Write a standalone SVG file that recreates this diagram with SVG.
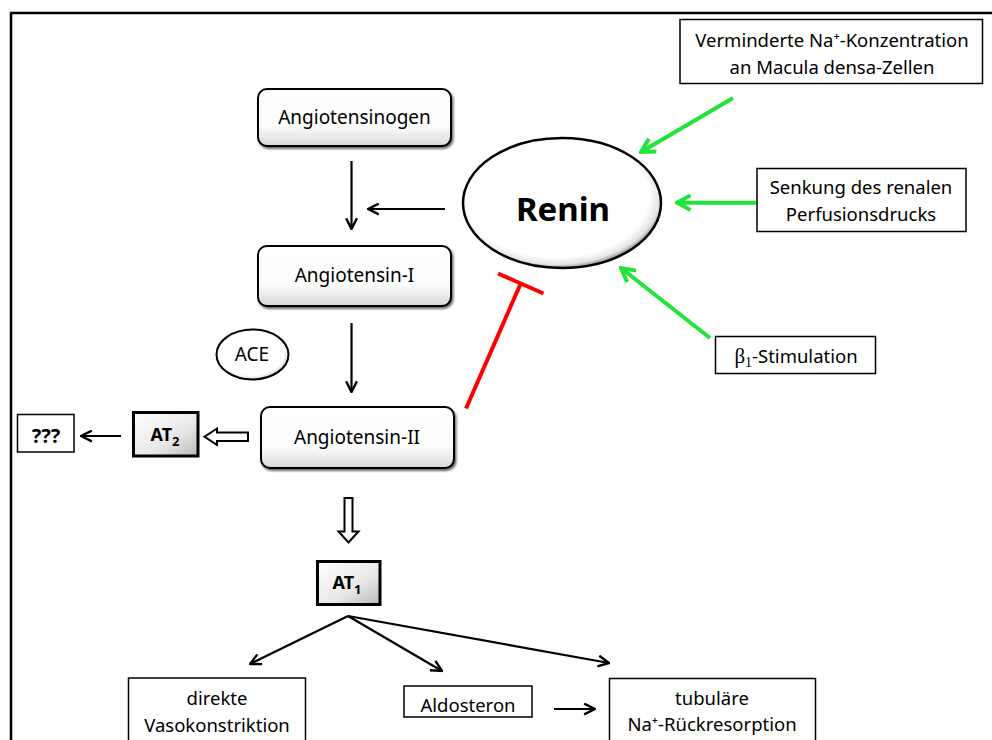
<svg xmlns="http://www.w3.org/2000/svg" width="992" height="740" viewBox="0 0 992 740">
<defs>
<style>
text{font-family:"Noto Sans","Open Sans","DejaVu Sans",sans-serif;fill:#000;text-anchor:middle}
.lbl{font-size:19px}
.small{font-size:18.5px}
.bold{font-weight:bold}
.box{fill:#fff;stroke:#000;stroke-width:1.5}
.rbox{fill:url(#gBox);stroke:#000;stroke-width:2;filter:url(#sh)}
.atbox{fill:url(#gAt);stroke:#000;stroke-width:3}
.blk{stroke:#000;stroke-width:2.2;fill:none;marker-end:url(#mBlack)}
.grn{stroke:#22e33a;stroke-width:4;fill:none;marker-end:url(#mGreen)}
.hollow{fill:#fff;stroke:#000;stroke-width:2}
</style>
<linearGradient id="gBox" x1="0" y1="0" x2="0" y2="1">
<stop offset="0" stop-color="#ffffff"/>
<stop offset="0.65" stop-color="#fcfcfc"/>
<stop offset="1" stop-color="#d8d8d8"/>
</linearGradient>
<linearGradient id="gAt" x1="0" y1="0" x2="1" y2="1">
<stop offset="0" stop-color="#ffffff"/>
<stop offset="0.6" stop-color="#e8e8e8"/>
<stop offset="1" stop-color="#b8b8b8"/>
</linearGradient>
<radialGradient id="gEll" cx="0.47" cy="0.45" r="0.55">
<stop offset="0" stop-color="#ffffff"/>
<stop offset="0.85" stop-color="#ffffff"/>
<stop offset="0.95" stop-color="#e4e4e4"/>
<stop offset="1" stop-color="#9a9a9a"/>
</radialGradient>
<filter id="sh" x="-10%" y="-10%" width="125%" height="135%">
<feDropShadow dx="1.5" dy="2" stdDeviation="1" flood-color="#000" flood-opacity="0.6"/>
</filter>
<marker id="mBlack" viewBox="0 0 12 12" refX="11" refY="6" markerWidth="13" markerHeight="13" markerUnits="userSpaceOnUse" orient="auto">
<path d="M1,1 L11,6 L1,11" fill="none" stroke="#000" stroke-width="2.2"/>
</marker>
<marker id="mGreen" viewBox="0 0 16 16" refX="14" refY="8" markerWidth="18" markerHeight="18" markerUnits="userSpaceOnUse" orient="auto">
<path d="M2,1.5 L14,8 L2,14.5" fill="none" stroke="#22e33a" stroke-width="3.5"/>
</marker>
</defs>
<rect width="992" height="740" fill="#fff"/>
<rect x="11" y="13" width="1000" height="800" fill="none" stroke="#000" stroke-width="2.5"/>

<g id="connectors">
<line class="blk" x1="351.5" y1="161" x2="351.5" y2="229"/>
<line class="blk" x1="445" y1="209" x2="368" y2="209"/>
<line class="blk" x1="351.5" y1="323" x2="351.5" y2="392"/>
<line class="blk" x1="121" y1="436" x2="81" y2="436"/>
<polygon class="hollow" points="248,432.5 217,432.5 217,428.5 204.5,436.7 217,445 217,441 248,441"/>
<polygon class="hollow" points="344.5,498 352.5,498 352.5,531.5 358.5,531.5 348.5,542.5 338.5,531.5 344.5,531.5"/>
<line class="blk" x1="348" y1="616" x2="250" y2="664"/>
<line class="blk" x1="348" y1="616" x2="442" y2="671"/>
<line class="blk" x1="348" y1="616" x2="609" y2="663"/>
<line class="blk" x1="554" y1="709" x2="595" y2="709"/>
<line class="grn" x1="733" y1="98" x2="641" y2="152"/>
<line class="grn" x1="756" y1="202.7" x2="677" y2="202.7"/>
<line class="grn" x1="710" y1="338" x2="621" y2="268"/>
<line x1="466" y1="408.5" x2="520.5" y2="284" stroke="#ff0000" stroke-width="4"/>
<line x1="498" y1="273.5" x2="543.5" y2="293.5" stroke="#ff0000" stroke-width="4"/>
</g>

<g id="angiotensinogen">
<rect class="rbox" x="258" y="89" width="193" height="57" rx="9"/>
<text class="lbl" x="354.5" y="124">Angiotensinogen</text>
</g>
<g id="angiotensin1">
<rect class="rbox" x="258" y="246" width="193" height="60" rx="9"/>
<text class="lbl" x="354.5" y="282">Angiotensin-I</text>
</g>
<g id="ace">
<ellipse cx="252.5" cy="354.5" rx="36" ry="25" fill="url(#gEll)" stroke="#000" stroke-width="2"/>
<text class="lbl" x="252" y="361">ACE</text>
</g>
<g id="angiotensin2">
<rect class="rbox" x="261" y="407" width="193" height="61" rx="9"/>
<text class="lbl" x="357" y="443.5">Angiotensin-II</text>
</g>
<g id="renin">
<ellipse cx="562" cy="203" rx="99" ry="65" fill="url(#gEll)" stroke="#000" stroke-width="2.5"/>
<text class="bold" x="563" y="221" font-size="33">Renin</text>
</g>
<g id="at2">
<rect class="atbox" x="133.5" y="412.5" width="64.5" height="43.5"/>
<text class="bold" x="165" y="441" font-size="18">AT<tspan font-size="13" dy="5">2</tspan></text>
</g>
<g id="unknown">
<rect class="box" x="17.5" y="414.5" width="56.5" height="37.5"/>
<text class="bold" x="46" y="442.5" font-size="20">???</text>
</g>
<g id="at1">
<rect class="atbox" x="317.5" y="561.5" width="62.5" height="43"/>
<text class="bold" x="347" y="589" font-size="18">AT<tspan font-size="13" dy="5">1</tspan></text>
</g>
<g id="verminderte">
<rect class="box" x="680" y="19.5" width="302.5" height="64"/>
<text class="small" x="832" y="47">Verminderte Na⁺-Konzentration</text>
<text class="small" x="832" y="74">an Macula densa-Zellen</text>
</g>
<g id="senkung">
<rect class="box" x="757" y="168.5" width="209" height="63"/>
<text class="small" x="861" y="194">Senkung des renalen</text>
<text class="small" x="861" y="221">Perfusionsdrucks</text>
</g>
<g id="beta1">
<rect class="box" x="715.5" y="336.5" width="160" height="37"/>
<text class="small" x="796" y="363"><tspan font-family="Liberation Serif,serif" font-size="21">β</tspan><tspan font-family="Liberation Serif,serif" font-size="14" dy="4">1</tspan><tspan dy="-4">-Stimulation</tspan></text>
</g>
<g id="direkte">
<rect class="box" x="128.5" y="678" width="177" height="80"/>
<text class="small" x="217" y="705">direkte</text>
<text class="small" x="217" y="732">Vasokonstriktion</text>
</g>
<g id="aldosteron">
<rect class="box" x="404" y="686" width="128" height="31"/>
<text class="small" x="468" y="712">Aldosteron</text>
</g>
<g id="tubulaere">
<rect class="box" x="609.5" y="678.5" width="206" height="80"/>
<text class="small" x="712" y="705">tubuläre</text>
<text class="small" x="712" y="731">Na⁺-Rückresorption</text>
</g>
</svg>
